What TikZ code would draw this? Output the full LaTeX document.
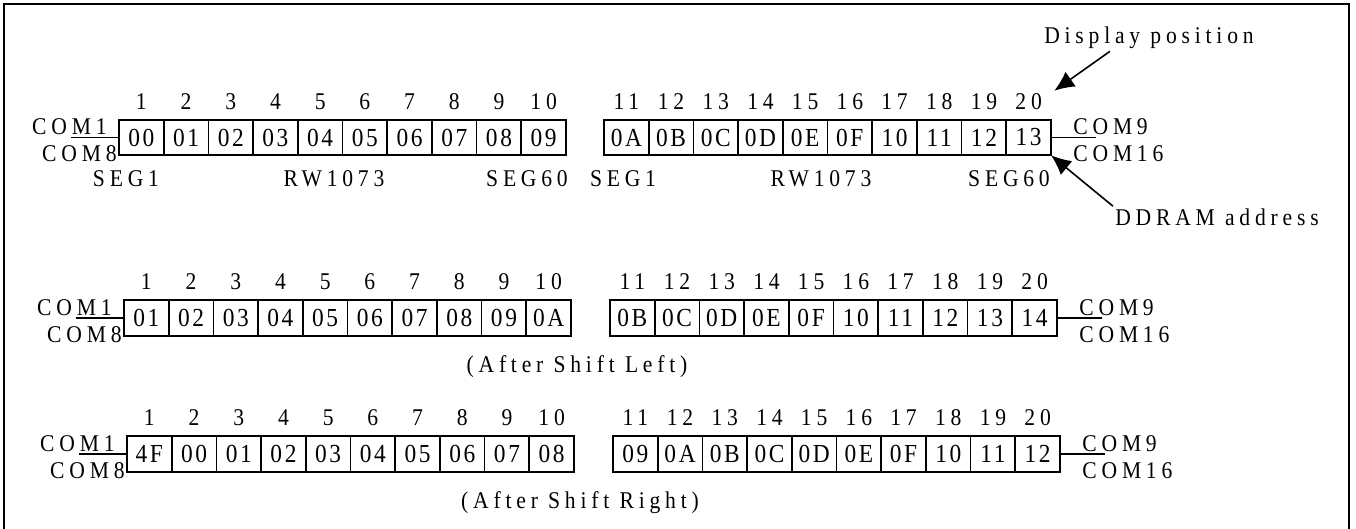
\documentclass[tikz,border=0pt]{standalone}
\usepackage{fontspec}
\setmainfont{Liberation Serif}
\newfontfamily\lblfont{Liberation Serif}[LetterSpace=20, FakeStretch=0.9]
\newfontfamily\cellfont{Liberation Serif}[LetterSpace=10, FakeStretch=0.9]
\usepackage{tikz}
\usetikzlibrary{arrows.meta}
\usetikzlibrary{calc}
\usetikzlibrary{positioning}
\tikzstyle{cell} = [draw, line width=0.85pt, rectangle, inner sep=0pt, outer sep=0pt,
    minimum width=22.35pt, minimum height=17.75pt, font=\cellfont\fontsize{13}{15}\selectfont]
\tikzstyle{lbl} = [inner sep=1pt, font=\lblfont\fontsize{12}{14}\selectfont]
\tikzstyle{wire} = [line width=0.6pt]

\begin{document}
\begin{tikzpicture}[x=0.5pt, y=-0.5pt, >={Latex[length=10pt,width=9pt]}]
    \useasboundingbox (0,0) rectangle (1356,529);
    % frame, open at the bottom
    \draw[line width=1.1pt] (4,529) -- (4,4) -- (1349,4) -- (1349,529);

    % We start with the DDRAM cells of the three lines
    \foreach \v [count=\i] in {00,01,02,03,04,05,06,07,08,09}
        \node[cell] (a\i) at (141.35+44.7*\i-44.7, 137.5) {\v};
    \foreach \v [count=\i from 11] in {0A,0B,0C,0D,0E,0F,10,11,12,13}
        \node[cell] (a\i) at (626.35+44.7*\i-491.7, 137.5) {\v};

    \foreach \v [count=\i] in {01,02,03,04,05,06,07,08,09,0A}
        \node[cell] (b\i) at (146.35+44.7*\i-44.7, 318) {\v};
    \foreach \v [count=\i from 11] in {0B,0C,0D,0E,0F,10,11,12,13,14}
        \node[cell] (b\i) at (632.35+44.7*\i-491.7, 318) {\v};

    \foreach \v [count=\i] in {4F,00,01,02,03,04,05,06,07,08}
        \node[cell] (c\i) at (149.35+44.7*\i-44.7, 454) {\v};
    \foreach \v [count=\i from 11] in {09,0A,0B,0C,0D,0E,0F,10,11,12}
        \node[cell] (c\i) at (635.35+44.7*\i-491.7, 454) {\v};

    % display positions and the COM lines of each line
    \foreach \r in {a,b,c} {
        \foreach \i in {1,...,20}
            \node[lbl, above=4pt of \r\i] (t\r\i) {\i};
        \coordinate[left=24pt of \r1.west] (l\r);
        \draw[wire] (l\r) -- (\r1.west);
        \node[lbl, above left=0pt and 5pt of \r1.west] (com1\r) {COM1};
        \node[lbl, below left=3pt and 0pt of \r1.west] (com8\r) {COM8};
        \coordinate[right=22.5pt of \r20.east] (r\r);
        \draw[wire] (\r20.east) -- (r\r);
        \node[lbl, above right=0pt and 10pt of \r20.east] (com9\r) {COM9};
        \node[lbl, below right=3pt and 10pt of \r20.east] (com16\r) {COM16};
    }

    % driver segments under the first line
    \node[lbl] (sega1) at (126,179) {SEG1};
    \node[lbl] (rwa) at (334,179) {RW1073};
    \node[lbl] (sega60) at (527,179) {SEG60};
    \node[lbl] (segb1) at (623,179) {SEG1};
    \node[lbl] (rwb) at (821,179) {RW1073};
    \node[lbl] (segb60) at (1009,179) {SEG60};

    \node[lbl] (shl) at (577,367) {(After Shift Left)};
    \node[lbl] (shr) at (580,503) {(After Shift Right)};

    % pointers
    \node[lbl] (dispos) at (1149,38) {Display position};
    \node[lbl] (ddram) at (1217,217) {DDRAM address};
    \draw[->, line width=0.8pt] ($(dispos.south)+(-19.5pt,0)$) -- ($(ta20.north east)+(5pt,0)$);
    \draw[->, line width=0.8pt] (ddram.north west) -- (a20.south east);
\end{tikzpicture}
\end{document}
